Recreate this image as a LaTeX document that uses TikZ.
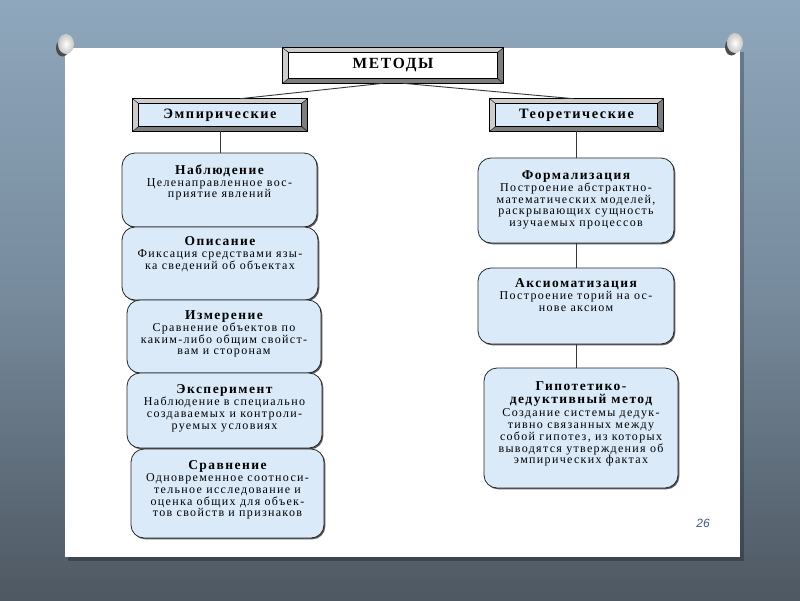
\documentclass[tikz,border=0pt]{standalone}
\usepackage{fontspec}
\setmainfont{Liberation Serif}
\newfontfamily\dfont{Liberation Serif}[LetterSpace=11]
\newfontfamily\numfont{Liberation Sans}
\usetikzlibrary{calc,shadows}
\definecolor{bgtop}{RGB}{143,167,188}
\definecolor{bgmid}{RGB}{118,138,156}
\definecolor{bgbot}{RGB}{78,88,98}
\definecolor{boxblue}{RGB}{218,234,249}
\definecolor{bevlight}{RGB}{205,205,205}
\definecolor{bevdark}{RGB}{125,125,125}
\definecolor{lineclr}{RGB}{55,55,55}
\definecolor{numblue}{RGB}{70,85,130}
\newcommand\ttl[1]{{\bfseries\fontsize{13.5}{11.8}\selectfont #1}}
\newcommand\bevbox[8]{%
 \node[draw=black, line width=0.6pt, fill=bevdark, minimum width=#4pt, minimum height=#5pt, inner sep=0pt] (#1) at (#2,#3) {};
 \fill[bevlight] (#1.north west) -- (#1.north east) -- ([shift={(-6,5)}]#1.north east) -- ([shift={(6,5)}]#1.north west) -- ([shift={(6,-5)}]#1.south west) -- (#1.south west) -- cycle;
 \draw[line width=0.5pt, fill=#6] ([shift={(6,5)}]#1.north west) rectangle ([shift={(-6,-5)}]#1.south east);
 \draw[line width=0.4pt] (#1.north west) -- ([shift={(6,5)}]#1.north west) (#1.north east) -- ([shift={(-6,5)}]#1.north east) (#1.south west) -- ([shift={(6,-5)}]#1.south west) (#1.south east) -- ([shift={(-6,-5)}]#1.south east);
 \draw[line width=0.6pt] (#1.north west) rectangle (#1.south east);
 \node[inner sep=0pt, font=\dfont\bfseries\fontsize{#8}{#8}\selectfont] (#1t) at (#1) {#7};
}
\begin{document}
\begin{tikzpicture}[x=1pt,y=-1pt,
  mbox/.style={draw=black!85, line width=0.8pt, fill=boxblue, rounded corners=13pt, inner sep=0pt,
    drop shadow={shadow xshift=1.3pt, shadow yshift=-1.3pt, fill=black!65, opacity=1}},
  txt/.style={align=center, inner sep=0pt, anchor=north, font=\dfont\fontsize{12}{11.8}\selectfont},
  conn/.style={draw=lineclr, line width=0.9pt}]
\useasboundingbox (0,0) rectangle (800,600);
% background
\shade[top color=bgtop, bottom color=bgbot, middle color=bgmid] (0,0) rectangle (800,600);
% panel
\fill[black, opacity=0.25] (68,52) rectangle (744,561);
\fill[white] (65,48) rectangle (740,557);
% pins
\fill[black!70] (62.5,48) ellipse (6.5 and 8.5);
\shade[inner color=white, outer color=gray!45] (66,44) ellipse (8 and 10);
\fill[black!70] (731.5,47) ellipse (6.5 and 8.5);
\shade[inner color=white, outer color=gray!45] (735,43) ellipse (8 and 10);
% top frames
\bevbox{met}{393}{65.5}{220}{35}{white}{МЕТОДЫ}{15.5}
\bevbox{emp}{220}{115}{174}{32}{boxblue}{Эмпирические}{14.3}
\bevbox{teo}{576.5}{115}{173}{32}{boxblue}{Теоретические}{14.3}
\draw[conn] ([xshift=-10pt]met.south) -- ([xshift=20pt]emp.north);
\draw[conn] ([xshift=10pt]met.south) -- ([xshift=-3pt]teo.north);
% left column boxes
\node[mbox, minimum width=195pt, minimum height=74pt] (nab) at (219.5,190) {};
\node[mbox, minimum width=196pt, minimum height=73pt] (opi) at (220,263.5) {};
\node[mbox, minimum width=194pt, minimum height=73pt] (izm) at (224,336.5) {};
\node[mbox, minimum width=195pt, minimum height=75pt] (eks) at (224.5,410.5) {};
\node[mbox, minimum width=193pt, minimum height=89pt] (srv) at (227.5,493.5) {};
\draw[conn] (emp.south) -- (emp.south |- nab.north);
% right column boxes
\node[mbox, minimum width=196pt, minimum height=85pt] (frm) at (576,200.5) {};
\node[mbox, minimum width=196pt, minimum height=76pt] (aks) at (576,306) {};
\node[mbox, minimum width=194pt, minimum height=120pt] (gip) at (581,428) {};
\draw[conn] (teo.south) -- (teo.south |- frm.north);
\draw[conn] (frm.south) -- (aks.north);
\draw[conn] (aks.south) -- (aks.south |- gip.north);
% texts
\node[txt] (nabt) at (219.5,164.5) {\ttl{Наблюдение}\\Целенаправленное вос-\\приятие явлений};
\node[txt] (opit) at (220,236.5) {\ttl{Описание}\\Фиксация средствами язы-\\ка сведений об объектах};
\node[txt] (izmt) at (224,310.5) {\ttl{Измерение}\\Сравнение объектов по\\каким-либо общим свойст-\\вам и сторонам};
\node[txt] (ekst) at (224.5,384.5) {\ttl{Эксперимент}\\Наблюдение в специально\\создаваемых и контроли-\\руемых условиях};
\node[txt] (srvt) at (227.5,460.5) {\ttl{Сравнение}\\Одновременное соотноси-\\тельное исследование и\\оценка общих для объек-\\тов свойств и признаков};
\node[txt] (frmt) at (576,170.5) {\ttl{Формализация}\\Построение абстрактно-\\математических моделей,\\раскрывающих сущность\\изучаемых процессов};
\node[txt] (akst) at (576,278.5) {\ttl{Аксиоматизация}\\Построение торий на ос-\\нове аксиом};
\node[txt] (gipt) at (581,381.5) {\ttl{Гипотетико-}\\[1.5pt]\ttl{дедуктивный метод}\\[1pt]Создание системы дедук-\\тивно связанных между\\собой гипотез, из которых\\выводятся утверждения об\\эмпирических фактах};
% page number
\node[font=\numfont\itshape\fontsize{12}{12}\selectfont, text=numblue] (pg) at (703,523) {26};
\end{tikzpicture}
\end{document}
